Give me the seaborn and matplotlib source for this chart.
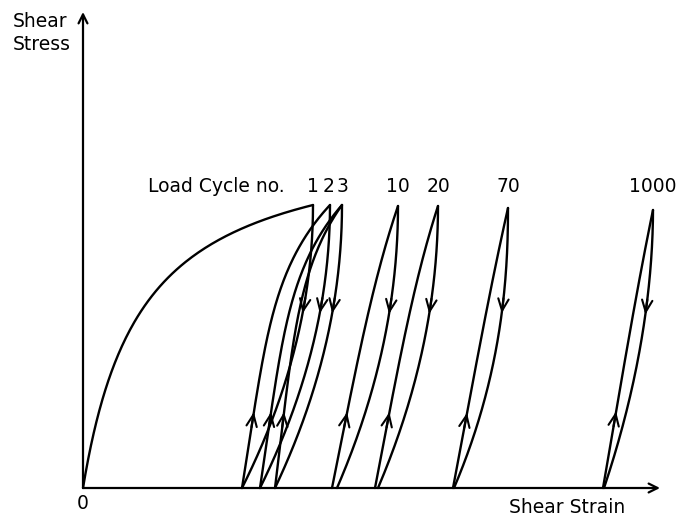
import numpy as np
import pandas as pd
import matplotlib
matplotlib.use("Agg")
import matplotlib.pyplot as plt
import seaborn as sns

# ---------------- data (strain, stress in schematic units) ----------------
# first loading (backbone): hyperbolic curve through two points
backbone_peak = (230, 283)     # end of first loading (cycle 1 peak)
backbone_mid = (39, 142)       # half-stress point

# hysteresis loops
cycle_labels  = ["1", "2", "3", "10", "20", "70", "1000"]
peak_strain   = [230, 247, 259, 315, 355, 425, 570]
peak_stress   = [283, 283, 283, 282, 282, 280, 278]
reload_start  = [None, 159, 177, 249, 292, 370, 520]   # strain where reloading starts
unload_end    = [159, 177, 192, 254, 295, 371, 521]    # strain where unloading ends
reload_lin    = [None, 0.5, 0.5, 0.85, 0.85, 0.95, 0.95]  # linear share of reload branch
reload_pow    = [None, 5, 5, 4, 4, 4, 4]
unload_pow    = [2.0, 2.0, 2.0, 2.0, 2.0, 2.2, 1.9]

# extra reload after cycle 3 (converges to the cycle 3 peak)
extra_reload_start = 192
extra_reload_lin = 0.5
extra_reload_pow = 5

arrow_up_stress = 76
arrow_down_stress = 174

# ---------------- build branches ----------------
def backbone(n=200):
    (xp, yp), (xm, ym) = backbone_peak, backbone_mid
    b = (xp / yp - xm / ym) / (xp - xm)
    a = xm / ym - b * xm
    x = xp * (np.linspace(0, 1, n) ** 2)
    return x, x / (a + b * x)

def reload_branch(x0, x1, y1, lin, k, n=150):
    s = np.linspace(0, 1, n)
    frac = lin * s + (1 - lin) * s ** k
    return x0 + (x1 - x0) * frac, y1 * s

def unload_branch(x1, x0, y1, p, n=150):
    s = np.linspace(1, 0, n)
    frac = (1 - s) ** p
    return x1 - (x1 - x0) * frac, y1 * s

rows = []
branches = []
def add(name, x, y, kind):
    for xi, yi in zip(x, y):
        rows.append({"strain": xi, "stress": yi, "branch": name})
    branches.append((np.asarray(x, float), np.asarray(y, float), kind))

bx, by = backbone()
add("backbone", bx, by, "none")
for i, lab in enumerate(cycle_labels):
    if reload_start[i] is not None:
        x, y = reload_branch(reload_start[i], peak_strain[i], peak_stress[i],
                             reload_lin[i], reload_pow[i])
        add(f"reload_{lab}", x, y, "up")
    x, y = unload_branch(peak_strain[i], unload_end[i], peak_stress[i], unload_pow[i])
    add(f"unload_{lab}", x, y, "down")
x, y = reload_branch(extra_reload_start, peak_strain[2], peak_stress[2],
                     extra_reload_lin, extra_reload_pow)
add("reload_extra", x, y, "up")

df = pd.DataFrame(rows)

# ---------------- plot ----------------
sns.set_style("white")
plt.rcParams["font.family"] = ["DejaVu Sans"]
fig = plt.figure(figsize=(6.79, 5.17), dpi=100)
ax = fig.add_axes([0, 0, 1, 1])

sns.lineplot(data=df, x="strain", y="stress", units="branch", estimator=None,
             sort=False, color="black", lw=1.7, ax=ax, legend=False)

# direction arrows
for x, y, kind in branches:
    if kind == "none":
        continue
    target = arrow_up_stress if kind == "up" else arrow_down_stress
    idx = int(np.argmin(np.abs(y - target)))
    back = max(idx - 8, 0)
    ax.annotate("", xy=(x[idx], y[idx]), xytext=(x[back], y[back]),
                arrowprops=dict(arrowstyle="->,head_length=0.5,head_width=0.22",
                                color="black", lw=1.5,
                                mutation_scale=17, shrinkA=0, shrinkB=0))

# axes as arrows
for end in [(0, 476), (577, 0)]:
    ax.annotate("", xy=end, xytext=(0, 0),
                arrowprops=dict(arrowstyle="->", color="black", lw=1.6,
                                mutation_scale=16, shrinkA=0, shrinkB=0))

fs = 13.5
tk = dict(fontsize=fs, color="black")
ax.text(-70, 476, "Shear\nStress", ha="left", va="top", linespacing=1.3, **tk)
ax.text(0, -6, "0", ha="center", va="top", **tk)
ax.text(484, -10, "Shear Strain", ha="center", va="top", **tk)
ax.text(202, 301, "Load Cycle no.", ha="right", va="center", **tk)
label_x = [peak_strain[0], peak_strain[1] - 1, peak_strain[2] + 1] + peak_strain[3:]
for lab, lx in zip(cycle_labels, label_x):
    ax.text(lx, 301, lab, ha="center", va="center", **tk)

ax.set_xlim(-83, 596)
ax.set_ylim(-29, 488)
ax.set_axis_off()
fig.savefig("out.png", dpi=100)
